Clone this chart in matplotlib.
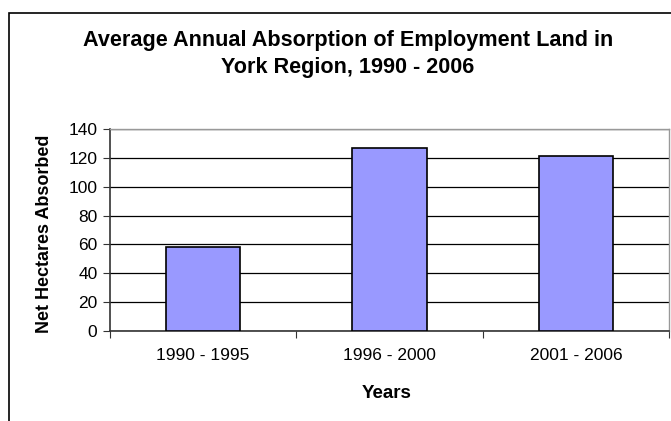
import matplotlib
matplotlib.use('Agg')
import matplotlib.pyplot as plt
from matplotlib.patches import Rectangle

# data
periods = ['1990 - 1995', '1996 - 2000', '2001 - 2006']
hectares = [58, 127, 121]
y_ticks = [0, 20, 40, 60, 80, 100, 120, 140]

plt.rcParams['font.family'] = ['Liberation Sans', 'DejaVu Sans']

W, H = 671, 421
fig = plt.figure(figsize=(W / 100, H / 100), dpi=100)

# outer chart border (runs off the right and bottom of the crop)
fig.patches.append(Rectangle((9 / W, -0.1), 1.2, (H - 13) / H + 0.1,
                             transform=fig.transFigure, fill=False,
                             edgecolor='black', linewidth=1.2))

ax = fig.add_axes([110 / W, 1 - 331 / H, (669 - 110) / W, (331 - 129) / H])
x = range(len(periods))
ax.bar(x, hectares, width=0.40, color='#9999FF', edgecolor='black',
       linewidth=1.2, zorder=3)

ax.set_xlim(-0.5, 2.5)
ax.set_ylim(0, 140)
ax.set_yticks(y_ticks)
ax.set_yticklabels([str(v) for v in y_ticks], fontsize=12.5)
ax.yaxis.grid(True, color='black', linewidth=0.9, zorder=0)
ax.set_axisbelow(True)

# ticks on x between categories, labels centred under bars
ax.set_xticks([-0.5, 0.5, 1.5, 2.5])
ax.set_xticklabels([])
ax.set_xticks(list(x), minor=True)
ax.set_xticklabels(periods, minor=True, fontsize=12.5)
ax.tick_params(axis='x', which='minor', length=0, pad=12)
ax.tick_params(axis='x', which='major', length=5, color='#333333')
ax.tick_params(axis='y', length=5, color='#333333', pad=4)

for s in ['left', 'bottom']:
    ax.spines[s].set_color('#333333')
    ax.spines[s].set_linewidth(1.2)
for s in ['top', 'right']:
    ax.spines[s].set_color('#999999')
    ax.spines[s].set_linewidth(1.0)

fig.text(348 / W, 1 - 46 / H, 'Average Annual Absorption of Employment Land in',
         ha='center', va='baseline', fontsize=15.6, fontweight='bold')
fig.text(348 / W, 1 - 73 / H, 'York Region, 1990 - 2006',
         ha='center', va='baseline', fontsize=15.6, fontweight='bold')
fig.text(45 / W, 1 - 234 / H, 'Net Hectares Absorbed', rotation=90,
         ha='center', va='center', fontsize=13, fontweight='bold')
fig.text(387 / W, 1 - 398 / H, 'Years', ha='center', va='baseline',
         fontsize=13.5, fontweight='bold')

fig.savefig('out.png', dpi=100)
